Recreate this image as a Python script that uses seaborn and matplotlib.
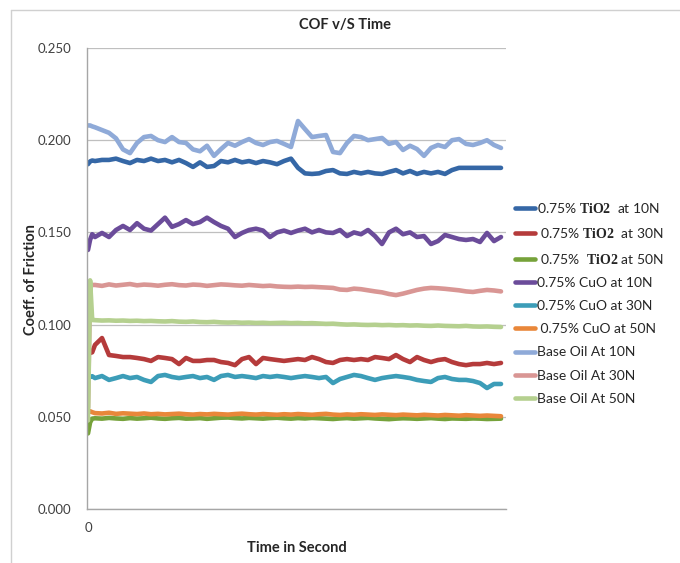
import matplotlib
matplotlib.use("Agg")
import matplotlib.pyplot as plt
import seaborn as sns
import pandas as pd
from matplotlib.lines import Line2D

# ---------------- data ----------------
time_s = [0, 0.3, 0.6] + list(range(1, 60))

tio2_10 = [0.187, 0.1885, 0.189,
           0.1887, 0.1893, 0.1893, 0.190, 0.1887, 0.1876, 0.1893, 0.1887, 0.190, 0.1887,
           0.1893, 0.188, 0.1893, 0.1876, 0.1855, 0.188, 0.1855, 0.186, 0.1887, 0.188,
           0.1893, 0.188, 0.1887, 0.1876, 0.1887, 0.188, 0.187, 0.1887, 0.190, 0.185,
           0.182, 0.1817, 0.182, 0.1833, 0.1838, 0.182, 0.1817, 0.1828, 0.182, 0.1828,
           0.182, 0.1817, 0.1828, 0.1838, 0.182, 0.1833, 0.1817, 0.1828, 0.182, 0.1828,
           0.1817, 0.1838, 0.185, 0.185, 0.185, 0.185, 0.185, 0.185, 0.185]

tio2_30 = [0.0846, 0.0846, 0.085,
           0.089, 0.0927, 0.0835, 0.083, 0.0824, 0.0824, 0.0819, 0.0813, 0.0803, 0.0824,
           0.0819, 0.0813, 0.0786, 0.0819, 0.0803, 0.0803, 0.0808, 0.0808, 0.0797, 0.0792,
           0.078, 0.0813, 0.0824, 0.0786, 0.0819, 0.0813, 0.0808, 0.0803, 0.0808, 0.0813,
           0.0808, 0.0824, 0.0813, 0.0797, 0.0792, 0.0808, 0.0813, 0.0808, 0.0813, 0.0808,
           0.0824, 0.0819, 0.0813, 0.0835, 0.0813, 0.0797, 0.0824, 0.0808, 0.0797, 0.0808,
           0.0813, 0.0797, 0.0786, 0.078, 0.0786, 0.0786, 0.0792, 0.0786, 0.0792]

tio2_50 = [0.041, 0.047, 0.049,
           0.0492, 0.0490, 0.0494, 0.0491, 0.0489, 0.0493, 0.0490, 0.0492, 0.0495, 0.0491,
           0.0489, 0.0492, 0.0494, 0.0490, 0.0491, 0.0493, 0.0489, 0.0492, 0.0495, 0.0496,
           0.0493, 0.0491, 0.0494, 0.0492, 0.0490, 0.0493, 0.0495, 0.0492, 0.0490, 0.0493,
           0.0491, 0.0494, 0.0492, 0.0490, 0.0488, 0.0491, 0.0493, 0.0490, 0.0492, 0.0494,
           0.0491, 0.0489, 0.0487, 0.0490, 0.0492, 0.0491, 0.0489, 0.0491, 0.0493, 0.0490,
           0.0488, 0.0491, 0.0490, 0.0489, 0.0491, 0.0490, 0.0488, 0.0489, 0.0490]

cuo_10 = [0.1405, 0.146, 0.149,
          0.1475, 0.1497, 0.1475, 0.1513, 0.1535, 0.1513, 0.155, 0.152, 0.151, 0.1545,
          0.158, 0.153, 0.1545, 0.1567, 0.1545, 0.1556, 0.158, 0.1556, 0.1535, 0.152,
          0.1475, 0.1497, 0.1513, 0.152, 0.151, 0.1475, 0.150, 0.151, 0.1497, 0.151,
          0.152, 0.150, 0.1513, 0.150, 0.1497, 0.1513, 0.148, 0.150, 0.149, 0.1513,
          0.148, 0.1437, 0.150, 0.152, 0.149, 0.150, 0.1475, 0.148, 0.1437, 0.1453,
          0.1486, 0.1475, 0.1464, 0.1459, 0.1464, 0.1448, 0.1497, 0.1453, 0.1475]

cuo_30 = [0.0716, 0.0716, 0.072,
          0.071, 0.0721, 0.070, 0.071, 0.0721, 0.071, 0.0716, 0.070, 0.0689, 0.0721,
          0.0727, 0.0716, 0.071, 0.0716, 0.0721, 0.071, 0.0716, 0.070, 0.0721, 0.0727,
          0.0716, 0.0721, 0.0716, 0.071, 0.0721, 0.0716, 0.0721, 0.0716, 0.071, 0.0716,
          0.0721, 0.0716, 0.071, 0.0716, 0.0683, 0.0705, 0.0716, 0.0727, 0.0721, 0.071,
          0.070, 0.071, 0.0716, 0.0721, 0.0716, 0.071, 0.070, 0.0694, 0.0689, 0.071,
          0.0716, 0.0705, 0.070, 0.070, 0.0694, 0.0683, 0.0656, 0.0678, 0.0678]

cuo_50 = [0.0525, 0.053, 0.0525,
          0.0520, 0.0518, 0.0522, 0.0516, 0.0519, 0.0517, 0.0515, 0.0518, 0.0514, 0.0516,
          0.0513, 0.0515, 0.0517, 0.0514, 0.0512, 0.0515, 0.0513, 0.0516, 0.0514, 0.0512,
          0.0515, 0.0517, 0.0514, 0.0512, 0.0515, 0.0513, 0.0511, 0.0514, 0.0512, 0.0515,
          0.0513, 0.0511, 0.0514, 0.0516, 0.0512, 0.0510, 0.0513, 0.0511, 0.0514, 0.0512,
          0.0510, 0.0513, 0.0511, 0.0509, 0.0512, 0.0510, 0.0508, 0.0511, 0.0509, 0.0507,
          0.0510, 0.0508, 0.0506, 0.0509, 0.0507, 0.0505, 0.0507, 0.0505, 0.0503]

base_10 = [0.208, 0.208, 0.2075,
           0.207, 0.2055, 0.204, 0.201, 0.195, 0.193, 0.1985, 0.2017, 0.2023, 0.200,
           0.199, 0.2017, 0.199, 0.1985, 0.195, 0.194, 0.197, 0.1915, 0.1952, 0.1985,
           0.197, 0.199, 0.2006, 0.1985, 0.1974, 0.199, 0.1996, 0.198, 0.1963, 0.2104,
           0.206, 0.2017, 0.2023, 0.2028, 0.1936, 0.193, 0.1985, 0.2023, 0.2017, 0.200,
           0.2006, 0.2012, 0.198, 0.199, 0.1947, 0.197, 0.1952, 0.1915, 0.1958, 0.1974,
           0.1963, 0.200, 0.2006, 0.198, 0.1974, 0.1985, 0.200, 0.1974, 0.1958]

base_30 = [0.055, 0.121, 0.1215,
           0.1215, 0.1210, 0.1218, 0.1212, 0.1216, 0.1220, 0.1213, 0.1217, 0.1215, 0.1211,
           0.1216, 0.1219, 0.1214, 0.1212, 0.1217, 0.1215, 0.1210, 0.1214, 0.1218, 0.1216,
           0.1213, 0.1211, 0.1215, 0.1212, 0.1209, 0.1211, 0.1207, 0.1205, 0.1204, 0.1206,
           0.1204, 0.1205, 0.1203, 0.1201, 0.1199, 0.1190, 0.1188, 0.1195, 0.1192, 0.1186,
           0.1180, 0.1175, 0.1166, 0.1160, 0.1168, 0.1178, 0.1188, 0.1195, 0.1199, 0.1197,
           0.1194, 0.1190, 0.1186, 0.1180, 0.1177, 0.1183, 0.1188, 0.1185, 0.1180]

base_50 = [0.048, 0.124, 0.1025,
           0.1024, 0.1022, 0.1023, 0.1021, 0.1022, 0.1020, 0.1021, 0.1019, 0.1020, 0.1018,
           0.1017, 0.1019, 0.1016, 0.1015, 0.1017, 0.1014, 0.1013, 0.1015, 0.1012, 0.1011,
           0.1012, 0.1010, 0.1011, 0.1009, 0.1010, 0.1008, 0.1009, 0.1010, 0.1008, 0.1009,
           0.1007, 0.1008, 0.1006, 0.1004, 0.1005, 0.1002, 0.1000, 0.1001, 0.0999, 0.0998,
           0.0999, 0.0997, 0.0998, 0.0996, 0.0997, 0.0995, 0.0996, 0.0994, 0.0993, 0.0995,
           0.0993, 0.0992, 0.0991, 0.0993, 0.0990, 0.0989, 0.0990, 0.0988, 0.0987]

series_names = ["0.75% TiO2 at 10N", "0.75% TiO2 at 30N", "0.75% TiO2 at 50N",
                "0.75% CuO at 10N", "0.75% CuO at 30N", "0.75% CuO at 50N",
                "Base Oil At 10N", "Base Oil At 30N", "Base Oil At 50N"]
legend_labels = [r"0.75% $\mathbf{TiO2}$  at 10N", r" 0.75% $\mathbf{TiO2}$  at 30N",
                 r" 0.75%  $\mathbf{TiO2}$ at 50N",
                 "0.75% CuO at 10N", "0.75% CuO at 30N", " 0.75% CuO at 50N",
                 "Base Oil At 10N", "Base Oil At 30N", "Base Oil At 50N"]
series_values = [tio2_10, tio2_30, tio2_50, cuo_10, cuo_30, cuo_50, base_10, base_30, base_50]
colors = ["#3567A6", "#B53B3B", "#76A23A", "#6B4C9A", "#3C9DB8", "#E9873A",
          "#8FAAD8", "#D99694", "#B5D08F"]
y_ticks = [0.0, 0.05, 0.10, 0.15, 0.20, 0.25]

# ---------------- style ----------------
sns.set_theme(style="white")
plt.rcParams['font.family'] = ['Lato', 'DejaVu Sans']
plt.rcParams['mathtext.fontset'] = 'custom'
plt.rcParams['mathtext.rm'] = 'Lato'
plt.rcParams['mathtext.bf'] = 'Liberation Serif:bold'

W, H = 680, 563
fig = plt.figure(figsize=(W / 100, H / 100), dpi=100)
ax = fig.add_axes([87 / W, 1 - 509 / H, (506 - 87) / W, (509 - 48) / H])

frames = [pd.DataFrame({"time": time_s, "cof": vals, "series": name})
          for name, vals in zip(series_names, series_values)]
df = pd.concat(frames, ignore_index=True)

LW = 3.3
sns.lineplot(data=df, x="time", y="cof", hue="series", hue_order=series_names,
             palette=dict(zip(series_names, colors)), linewidth=LW,
             estimator=None, sort=False, legend=False, ax=ax)

ax.set_xlim(-1 / 7, 59 + 5 / 7)
ax.set_ylim(0, 0.25)
ax.set_yticks(y_ticks)
ax.set_yticklabels([f"{v:.3f}" for v in y_ticks])
ax.set_xticks([0])
ax.set_xticklabels(["0"])
ax.tick_params(axis="both", length=0, labelsize=9.5, colors="#404040")
ax.tick_params(axis="y", pad=11)
ax.tick_params(axis="x", pad=9)
ax.grid(axis="y", color="#BFBFBF", linewidth=0.9)
ax.grid(axis="x", visible=False)
for s in ["top", "right"]:
    ax.spines[s].set_visible(False)
for s in ["left", "bottom"]:
    ax.spines[s].set_color("#A6A6A6")
    ax.spines[s].set_linewidth(1.0)
ax.set_xlabel("")
ax.set_ylabel("")

fig.text(345 / W, 1 - 25 / H, "COF v/S Time", ha="center", va="center",
         fontsize=10.5, fontweight="bold", color="#262626")
fig.text(297 / W, 1 - 548 / H, "Time in Second", ha="center", va="center",
         fontsize=10.5, fontweight="bold", color="#262626")
fig.text(31 / W, 1 - 280 / H, "Coeff. of Friction", ha="center", va="center",
         rotation=90, fontsize=10.5, fontweight="bold", color="#262626")

handles = [Line2D([0], [0], color=c, lw=LW) for c in colors]
leg = fig.legend(handles, legend_labels, loc="upper left",
                 bbox_to_anchor=(515 / W, 1 - 201 / H), frameon=False,
                 fontsize=10, handlelength=1.45, handletextpad=0.15,
                 labelspacing=0.81, borderaxespad=0, borderpad=0)
for t in leg.get_texts():
    t.set_color("#262626")

# chart-area border
fig.add_artist(Line2D([11 / W, 11 / W], [0, 1 - 10 / H], color="#D0D0D0", lw=1,
                      transform=fig.transFigure))
fig.add_artist(Line2D([11 / W, 1], [1 - 10 / H, 1 - 10 / H], color="#D0D0D0", lw=1,
                      transform=fig.transFigure))

fig.savefig("out.png", dpi=100)
